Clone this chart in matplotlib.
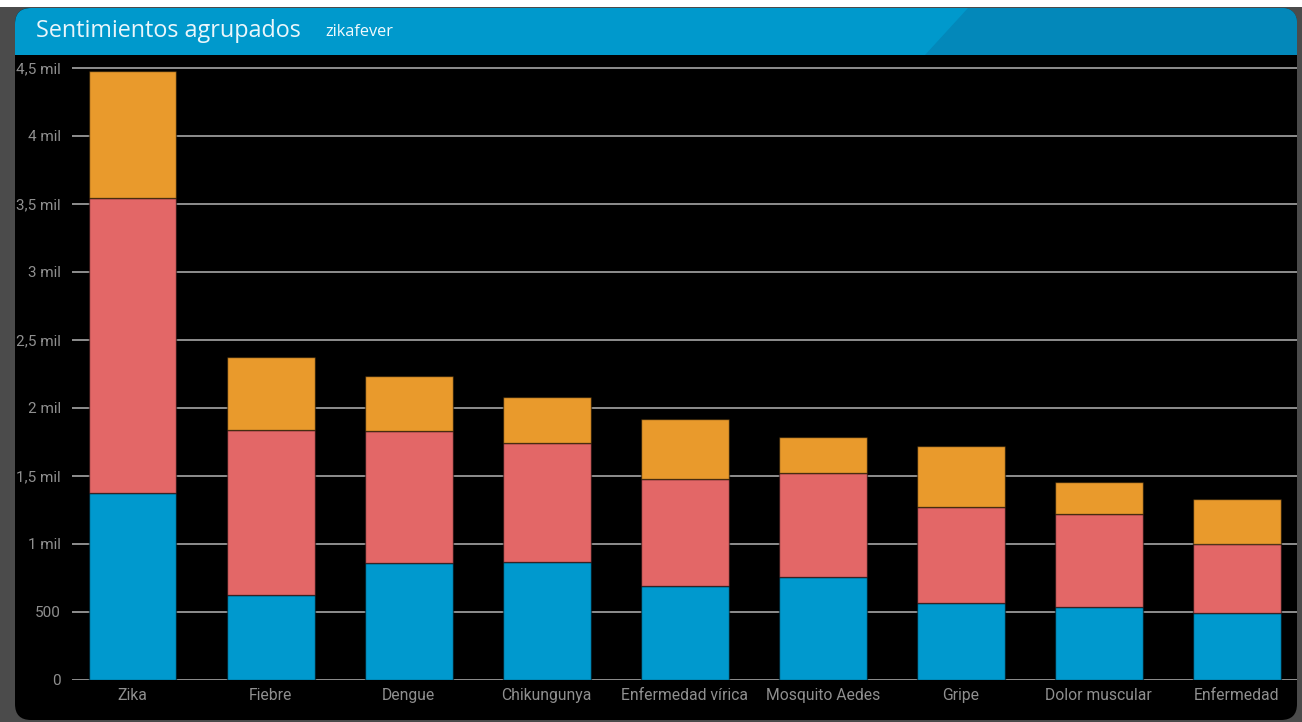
import matplotlib
matplotlib.use("Agg")
import matplotlib.pyplot as plt
from matplotlib.patches import FancyBboxPatch, Rectangle, Polygon
import numpy as np

# Data
categories = ["Zika", "Fiebre", "Dengue", "Chikungunya", "Enfermedad vírica",
              "Mosquito Aedes", "Gripe", "Dolor muscular", "Enfermedad"]
neutral = [1375, 621, 860, 865, 689, 753, 562, 532, 488]
negative = [2167, 1217, 971, 875, 789, 765, 708, 684, 510]
positive = [935, 533, 404, 341, 439, 264, 448, 240, 328]
y_ticks = [0, 500, 1000, 1500, 2000, 2500, 3000, 3500, 4000, 4500]
y_tick_labels = ["0", "500", "1 mil", "1,5 mil", "2 mil", "2,5 mil",
                 "3 mil", "3,5 mil", "4 mil", "4,5 mil"]
title = "Sentimientos agrupados"
subtitle = "zikafever"

BLUE = "#0099CE"
RED = "#E36767"
ORANGE = "#E99A2C"
TICK_GRAY = "#8f8f8f"

W, H = 1302, 722
fig = plt.figure(figsize=(W / 100, H / 100), dpi=100, facecolor="white")

# Card background drawn in pixel space
bg = fig.add_axes([0, 0, 1, 1], zorder=0)
bg.set_xlim(0, W)
bg.set_ylim(H, 0)
bg.axis("off")
bg.add_patch(Rectangle((0, 7), W, H - 7, color="#4b4b4b", lw=0))
bg.add_patch(FancyBboxPatch((15, 8), 1282, 712, boxstyle="round,pad=0,rounding_size=16",
                            fc="black", ec="none"))
header = FancyBboxPatch((15, 8), 1282, 70, boxstyle="round,pad=0,rounding_size=16",
                        fc="#0099CC", ec="none")
bg.add_patch(header)
shade = Polygon([(925, 55), (968, 8), (1297, 8), (1297, 55)], closed=True,
                fc="#0388BA", ec="none")
bg.add_patch(shade)
shade.set_clip_path(header)
bg.add_patch(Rectangle((15, 55), 1282, 30, fc="black", ec="none"))
bg.text(36, 31, title, color="#EAF6FB", fontsize=16.8, family="Open Sans",
        va="center", ha="left")
bg.text(325, 32.5, subtitle, color="#F2FAFD", fontsize=11.8, family="Open Sans",
        fontweight="medium", va="center", ha="left")

# Chart
px_per_unit = 0.136
y_top = 4600
ax_h = y_top * px_per_unit
ax = fig.add_axes([72 / W, (H - 679.7) / H, (1297 - 72) / W, ax_h / H], zorder=1)
ax.patch.set_alpha(0)

x = np.arange(len(categories))
width = 0.637
neutral = np.array(neutral)
negative = np.array(negative)
positive = np.array(positive)
edge = (0, 0, 0, 0.5)
ax.bar(x, neutral, width, color=BLUE, edgecolor=edge, linewidth=1)
ax.bar(x, negative, width, bottom=neutral, color=RED, edgecolor=edge, linewidth=1)
ax.bar(x, positive, width, bottom=neutral + negative, color=ORANGE, edgecolor=edge, linewidth=1)

ax.set_xlim((72 - 132.5) / 138.04, 8 + (1297 - 1236.8) / 138.04)
ax.set_ylim(0, y_top)
ax.set_yticks(y_ticks)
ax.set_yticklabels(y_tick_labels)
ax.set_xticks(x)
ax.set_xticklabels(categories)
ax.yaxis.grid(True, color="#8e8e8e", linewidth=1.4)
ax.set_axisbelow(True)
for s in ax.spines.values():
    s.set_visible(False)
ax.tick_params(axis="y", length=0, pad=8, labelcolor=TICK_GRAY, labelsize=11)
ax.tick_params(axis="x", length=0, pad=6, labelcolor=TICK_GRAY, labelsize=11.3)
for lbl in ax.get_xticklabels() + ax.get_yticklabels():
    lbl.set_family("Roboto")

fig.savefig("out.png", dpi=100, facecolor=fig.get_facecolor())
